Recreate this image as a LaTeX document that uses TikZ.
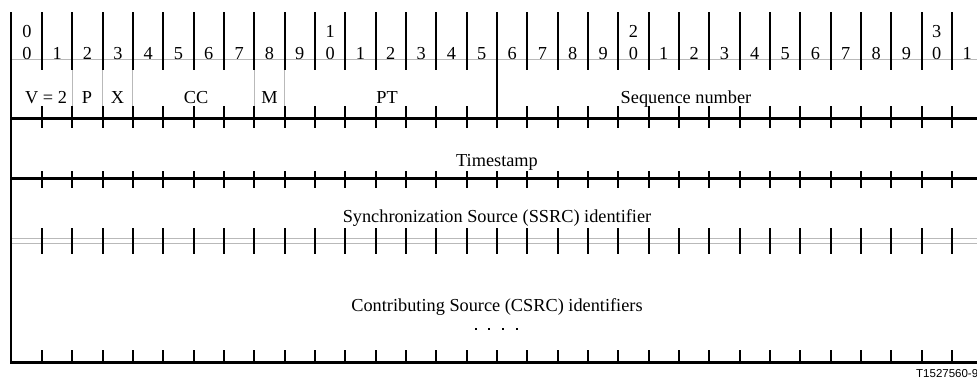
\documentclass[tikz,border=0pt]{standalone}
\usepackage{fontspec}
\setmainfont{Liberation Serif}
\newfontfamily\idsans{Liberation Sans}
\definecolor{gridgrey}{RGB}{185,185,185}
\begin{document}
\begin{tikzpicture}[x=1pt,y=-1pt,
  lbl/.style={anchor=base, inner sep=0pt, font=\fontsize{18.3}{20}\selectfont},
  rulethick/.style={line width=3pt},
  rulebottom/.style={line width=2.2pt},
  tickline/.style={line width=2pt},
  greyline/.style={draw=gridgrey, line width=1pt},
  dotmark/.style={fill=black}]
\useasboundingbox (0,0) rectangle (977,378);
\clip (0,0) rectangle (977,378);
\def\xs{30.33}
\def\xo{11.67}
% header grey line
\draw[greyline] (11,59) -- (977,59);
% header ticks
\foreach \k in {1,...,31} \draw[tickline] ({\xo+\xs*\k},12) -- ++(0,58);
% header digits
\foreach \k in {0,...,31} {
  \pgfmathtruncatemacro\d{mod(\k,10)}
  \node[lbl] (bit\k) at ({\xo+\xs*(\k+0.5)},59) {\d};
}
\foreach \k/\t in {0/0,10/1,20/2,30/3}
  \node[lbl] (dec\k) at ({\xo+\xs*(\k+0.5)},37) {\t};
% grey field separators in first row
\foreach \k in {2,3,4,8,9} \draw[greyline] ({\xo+\xs*\k},70) -- ({\xo+\xs*\k},118);
% thick separator PT / Sequence number
\draw[line width=2.6pt] ({\xo+\xs*16},59) -- ({\xo+\xs*16},118);
% horizontal rules
\draw[rulethick] (11,118) -- (977,118);
\draw[rulethick] (11,178) -- (977,178);
\draw[greyline] (11,238) -- (977,238);
\draw[greyline] (11,243.5) -- (977,243.5);
\draw[rulebottom] (11,362.5) -- (977,362.5);
% ticks on rules
\foreach \k in {1,...,31} {
  \draw[tickline] ({\xo+\xs*\k},106) -- ++(0,22);
  \draw[tickline] ({\xo+\xs*\k},171) -- ++(0,17);
  \draw[tickline] ({\xo+\xs*\k},228) -- ++(0,26);
  \draw[tickline] ({\xo+\xs*\k},350) -- ++(0,12);
}
% left border
\draw[line width=2.5pt] (11,12) -- (11,363.6);
% field labels
\node[lbl] (v) at (46,103) {V = 2};
\node[lbl] (p) at (87,103) {P};
\node[lbl] (x) at (117.5,103) {X};
\node[lbl] (cc) at (196,103) {CC};
\node[lbl] (m) at (269.5,103) {M};
\node[lbl] (pt) at (387,103) {PT};
\node[lbl] (seq) at (686,103) {Sequence number};
\node[lbl] (ts) at (497,166) {Timestamp};
\node[lbl] (ssrc) at (497,222.5) {Synchronization Source (SSRC) identifier};
\node[lbl] (csrc) at (497,311.5) {Contributing Source (CSRC) identifiers};
% small marks
\foreach \x in {476,489,503,517} \fill[dotmark] (\x-0.9,327.8) rectangle ++(1.8,2.2);
% figure id
\node[anchor=base west, inner sep=0pt, font=\idsans\fontsize{11.5}{13}\selectfont] (fid) at (916,377) {T1527560-9};
\end{tikzpicture}
\end{document}
